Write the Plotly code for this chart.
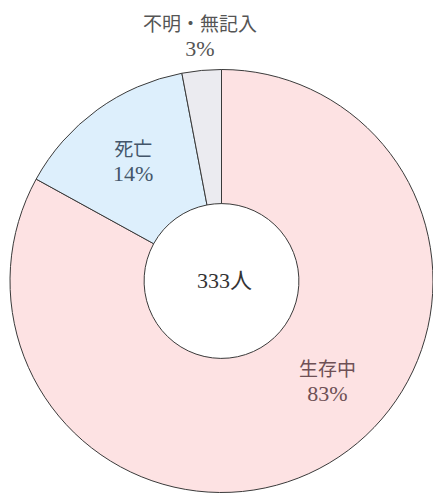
import plotly.graph_objects as go

# Survival status breakdown (n = 333)
categories = ["生存中", "死亡", "不明・無記入"]
shares = [83, 14, 3]
total_label = "333人"

slice_colors = ["#fde2e3", "#ddeffc", "#ebebf0"]
label_colors = ["#6e5055", "#44566a", "#555555"]

W, H = 433, 495

fig = go.Figure(
    go.Pie(
        labels=categories,
        values=shares,
        hole=0.366,
        sort=False,
        direction="clockwise",
        rotation=0,
        textinfo="none",
        hoverinfo="label+percent",
        marker=dict(colors=slice_colors, line=dict(color="#3a3a3a", width=1)),
        domain=dict(x=[10 / W, 1.0], y=[2 / H, 426 / H]),
        showlegend=False,
    )
)

name_font = "Noto Sans CJK JP, sans-serif"
num_font = "Liberation Serif, Noto Sans CJK JP, serif"

# label block centres in pixels (x, y) from the top-left corner
label_pos = {
    "生存中": (327, 380),
    "死亡": (133, 160),
    "不明・無記入": (200, 35),
}


def add_text(px, py, text, family, size, color):
    fig.add_annotation(
        x=px / W,
        y=1 - py / H,
        xref="paper",
        yref="paper",
        text=text,
        showarrow=False,
        font=dict(family=family, size=size, color=color),
        xanchor="center",
        yanchor="middle",
        align="center",
    )


for cat, val, col in zip(categories, shares, label_colors):
    px, py = label_pos[cat]
    text = (
        f"{cat}<br>"
        f"<span style='font-family:Liberation Serif, serif;font-size:22px'>{val}%</span>"
    )
    add_text(px, py, text, name_font, 19, col)

add_text(224, 280, total_label, num_font, 22, "#333333")

fig.update_layout(
    width=W,
    height=H,
    margin=dict(l=0, r=0, t=0, b=0),
    paper_bgcolor="white",
    plot_bgcolor="white",
)

fig.write_html("out.html")
